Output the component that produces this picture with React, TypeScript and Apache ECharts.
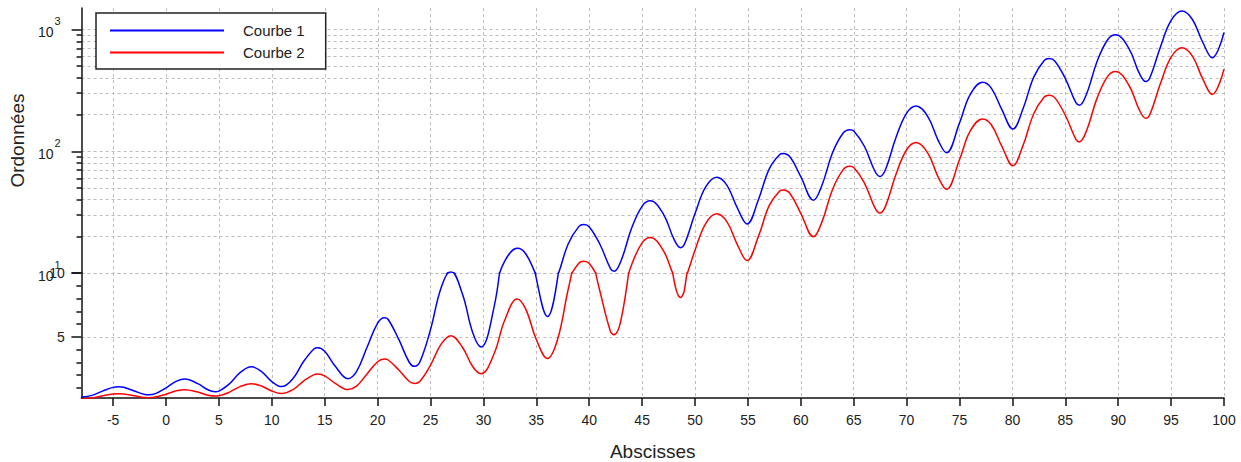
import React, { useEffect, useRef } from "react";
import * as echarts from "echarts";

// Abscissa samples and the two curves
const xValues = [
  -8, -7, -6, -5, -4.498, -4, -3, -2, -1.642, -1, 0, 1, 1.785, 3, 4, 4.641, 5, 6, 7, 8.068, 9, 10,
  10.924, 12, 13, 14, 14.351, 15, 16, 17.207, 18, 19, 20, 20.634, 21, 22, 23, 23.49, 24, 25, 26,
  26.918, 28, 29, 29.774, 31, 32, 33.201, 34, 35, 36.057, 37, 38, 39, 39.484, 40, 41, 42, 42.34, 43,
  44, 45, 45.767, 47, 48, 48.623, 49, 50, 51, 52.051, 53, 54, 54.907, 56, 57, 58, 58.334, 59, 60,
  61.19, 62, 63, 64, 64.617, 65, 66, 67, 67.473, 68, 69, 70, 70.9, 72, 73, 73.756, 75, 76, 77.184,
  78, 79, 80.04, 81, 82, 83, 83.467, 84, 85, 86, 86.323, 87, 88, 89, 89.75, 91, 92, 92.606, 93, 94,
  95, 96.033, 97, 98, 98.889, 100,
];
const courbe1 = [
  0.285, 0.407, 0.742, 1.035, 1.08, 1.036, 0.75, 0.473, 0.446, 0.539, 1.0, 1.526, 1.691, 1.326,
  0.827, 0.698, 0.744, 1.321, 2.19, 2.649, 2.294, 1.487, 1.094, 1.724, 3.063, 4.065, 4.149, 3.869,
  2.684, 1.713, 2.259, 4.176, 6.077, 6.5, 6.357, 4.792, 2.983, 2.684, 3.038, 5.569, 8.848, 10.18,
  8.39, 5.303, 4.204, 7.306, 12.54, 15.95, 14.34, 9.574, 6.585, 9.532, 17.33, 24.03, 24.98, 23.9,
  17.22, 10.88, 10.32, 12.6, 23.38, 35.47, 39.13, 30.48, 18.99, 16.16, 17.32, 30.9, 51.0, 61.3,
  52.79, 34.11, 25.31, 40.36, 71.43, 94.25, 96.02, 89.18, 61.58, 39.65, 52.83, 97.55, 141.2, 150.4,
  146.8, 110.0, 68.55, 62.11, 70.9, 130.3, 205.8, 235.6, 192.9, 121.6, 97.29, 171.0, 292.3, 369.1,
  330.4, 219.6, 152.4, 223.1, 404.5, 557.5, 578.1, 551.3, 395.2, 250.5, 238.7, 294.5, 546.4, 824.6,
  905.6, 700.4, 436.0, 374.0, 403.5, 723.0, 1187.5, 1418.4, 1214.8, 782.2, 585.8, 944.7,
];
const courbe2 = [
  0.143, 0.204, 0.371, 0.518, 0.54, 0.518, 0.375, 0.236, 0.223, 0.27, 0.5, 0.763, 0.846, 0.663,
  0.414, 0.349, 0.372, 0.66, 1.095, 1.324, 1.147, 0.744, 0.547, 0.862, 1.531, 2.032, 2.075, 1.934,
  1.342, 0.857, 1.13, 2.088, 3.039, 3.25, 3.178, 2.396, 1.491, 1.342, 1.519, 2.785, 4.424, 5.09,
  4.195, 2.651, 2.102, 3.653, 6.27, 7.97, 7.17, 4.787, 3.293, 4.766, 8.67, 12.01, 12.49, 11.95,
  8.61, 5.44, 5.16, 6.3, 11.69, 17.74, 19.57, 15.24, 9.49, 8.08, 8.66, 15.45, 25.5, 30.65, 26.4,
  17.05, 12.66, 20.18, 35.72, 47.13, 48.01, 44.59, 30.79, 19.83, 26.42, 48.77, 70.6, 75.2, 73.4,
  55.0, 34.27, 31.06, 35.45, 65.1, 102.9, 117.8, 96.5, 60.8, 48.65, 85.5, 146.2, 184.5, 165.2,
  109.8, 76.2, 111.5, 202.3, 278.7, 289.0, 275.7, 197.6, 125.3, 119.4, 147.2, 273.2, 412.3, 452.8,
  350.2, 218.0, 187.0, 201.7, 361.5, 593.8, 709.2, 607.4, 391.1, 292.9, 472.4,
];

const xTicks = [-5, 0, 5, 10, 15, 20, 25, 30, 35, 40, 45, 50, 55, 60, 65, 70, 75, 80, 85, 90, 95, 100];
const logMajorTicks = [10, 100, 1000];
const logMinorTicks = [20, 30, 40, 50, 60, 70, 80, 90, 200, 300, 400, 500, 600, 700, 800, 900];
const linMajorTicks = [5, 10];
const linMinorTicks = [1, 2, 3, 4, 6, 7, 8, 9];
const seriesNames = ["Courbe 1", "Courbe 2"];
const seriesColors = ["#0000ff", "#ff0000"];

const FONT = "'Liberation Sans', Arial, Helvetica, sans-serif";
const AXIS_COLOR = "#111";
const GRID_LINE = { color: "#bdbdbd", width: 1, type: [3, 3] as number[] };

export default function App() {
  const ref = useRef<HTMLDivElement>(null);

  useEffect(() => {
    if (!ref.current) return;
    const chart = echarts.init(ref.current, undefined, { renderer: "svg" });

    const pts = (vals: number[]) => xValues.map((x, i) => [x, vals[i]]);
    const curves = [courbe1, courbe2];

    const series: any[] = [];
    [0, 1].forEach((gi) => {
      curves.forEach((vals, si) => {
        series.push({
          name: seriesNames[si],
          type: "line",
          xAxisIndex: gi,
          yAxisIndex: gi === 0 ? 0 : 2,
          data: pts(vals),
          smooth: 0.4,
          showSymbol: false,
          symbol: "none",
          clip: true,
          color: seriesColors[si],
          lineStyle: { color: seriesColors[si], width: 1.5 },
          itemStyle: { color: seriesColors[si] },
        });
      });
    });

    const xAxisBase = {
      type: "value",
      min: -8,
      max: 100,
      splitLine: { show: true, lineStyle: GRID_LINE },
    };

    chart.setOption({
      animation: false,
      backgroundColor: "#ffffff",
      textStyle: { fontFamily: FONT },
      grid: [
        { left: 81.4, right: 17, top: 8.1, height: 264.9 },
        { left: 81.4, right: 17, top: 273, height: 129 },
      ],
      legend: {
        orient: "vertical",
        left: 96,
        top: 13,
        padding: [9, 21, 8, 14],
        itemGap: 5,
        itemWidth: 114,
        itemHeight: 2,
        icon: "rect",
        borderColor: "#222",
        borderWidth: 1.5,
        backgroundColor: "#ffffff",
        data: seriesNames,
        textStyle: {
          fontFamily: FONT,
          fontSize: 15,
          lineHeight: 17,
          color: "#222",
          padding: [0, 0, 0, 14],
        },
      },
      xAxis: [
        {
          ...xAxisBase,
          gridIndex: 0,
          position: "bottom",
          axisLine: { show: false, onZero: false },
          axisTick: { show: false, customValues: xTicks },
          axisLabel: { show: false, customValues: xTicks },
        },
        {
          ...xAxisBase,
          gridIndex: 1,
          position: "bottom",
          name: "Abscisses",
          nameLocation: "middle",
          nameGap: 44,
          nameTextStyle: { fontFamily: FONT, fontSize: 19, color: "#222" },
          axisLine: { show: true, onZero: false, lineStyle: { color: AXIS_COLOR, width: 1.5 } },
          axisTick: {
            show: true,
            inside: false,
            length: 8,
            customValues: xTicks,
            lineStyle: { color: AXIS_COLOR, width: 1.5 },
          },
          axisLabel: {
            show: true,
            customValues: xTicks,
            margin: 15,
            fontFamily: FONT,
            fontSize: 14,
            color: "#222",
          },
        },
      ],
      yAxis: [
        {
          type: "log",
          logBase: 10,
          gridIndex: 0,
          position: "left",
          min: 10,
          max: 1500,
          name: "Ordonnées",
          nameLocation: "middle",
          nameRotate: 90,
          nameGap: 50,
          nameTextStyle: { fontFamily: FONT, fontSize: 19, color: "#222" },
          axisLine: { show: true, onZero: false, lineStyle: { color: AXIS_COLOR, width: 1.5 } },
          axisTick: {
            show: true,
            length: 10,
            customValues: logMajorTicks,
            lineStyle: { color: AXIS_COLOR, width: 1.5 },
          },
          axisLabel: {
            show: true,
            customValues: logMajorTicks,
            margin: 21,
            color: "#222",
            formatter: (v: number) => `{b|10}{s|${Math.round(Math.log10(v))}}`,
            rich: {
              b: { fontFamily: FONT, fontSize: 14, color: "#222", padding: [5, 0, 0, 0] },
              s: { fontFamily: FONT, fontSize: 11, color: "#222", padding: [0, 0, 17, 1] },
            },
          },
          splitLine: { show: true, lineStyle: GRID_LINE },
        },
        {
          type: "log",
          logBase: 10,
          gridIndex: 0,
          position: "left",
          offset: 0,
          min: 10,
          max: 1500,
          axisLine: { show: false, onZero: false },
          axisTick: {
            show: true,
            length: 5,
            customValues: logMinorTicks,
            lineStyle: { color: AXIS_COLOR, width: 1.5 },
          },
          axisLabel: { show: false, customValues: logMinorTicks },
          splitLine: { show: true, lineStyle: GRID_LINE },
        },
        {
          type: "value",
          gridIndex: 1,
          position: "left",
          min: 0.2,
          max: 10,
          axisLine: { show: true, onZero: false, lineStyle: { color: AXIS_COLOR, width: 1.5 } },
          axisTick: {
            show: true,
            length: 10,
            customValues: linMajorTicks,
            lineStyle: { color: AXIS_COLOR, width: 1.5 },
          },
          axisLabel: {
            show: true,
            customValues: linMajorTicks,
            margin: 16.5,
            fontFamily: FONT,
            fontSize: 14,
            color: "#222",
          },
          splitLine: { show: true, lineStyle: GRID_LINE },
        },
        {
          type: "value",
          gridIndex: 1,
          position: "left",
          offset: 0,
          min: 0.2,
          max: 10,
          axisLine: { show: false, onZero: false },
          axisTick: {
            show: true,
            length: 5,
            customValues: linMinorTicks,
            lineStyle: { color: AXIS_COLOR, width: 1.5 },
          },
          axisLabel: { show: false, customValues: linMinorTicks },
          splitLine: { show: false },
        },
      ],
      series,
    });

    return () => chart.dispose();
  }, []);

  return (
    <div
      ref={ref}
      style={{ position: "fixed", left: 0, top: 0, width: 1241, height: 462, background: "#fff" }}
    />
  );
}
